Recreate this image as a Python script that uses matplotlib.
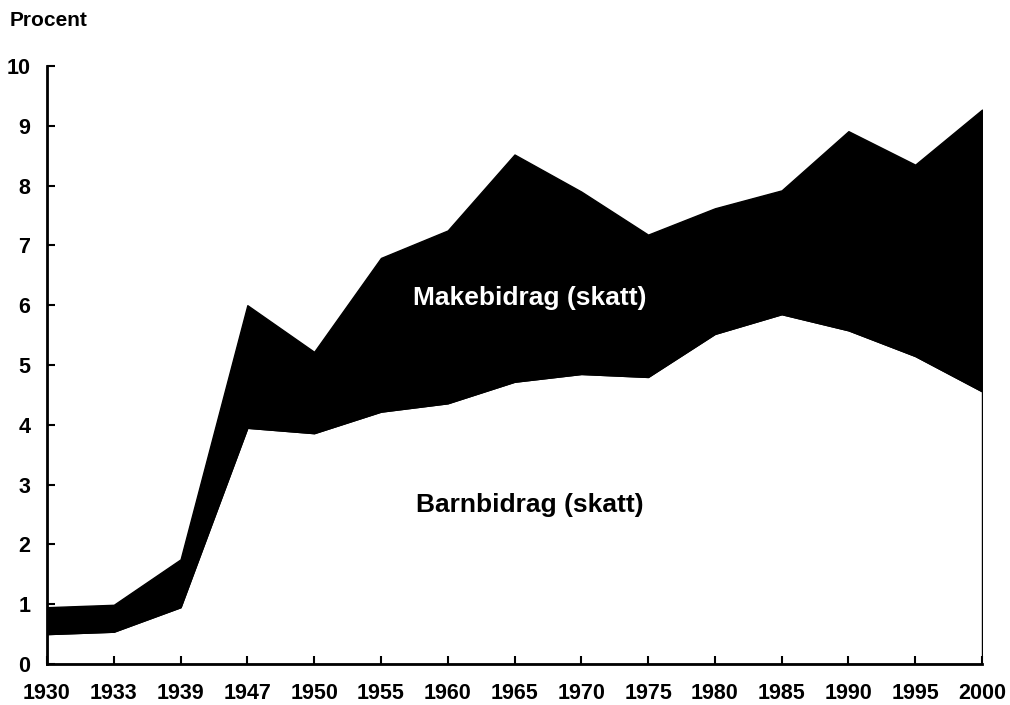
import matplotlib
matplotlib.use("Agg")
import matplotlib.pyplot as plt
import numpy as np

plt.rcParams['font.family'] = ['Liberation Sans', 'DejaVu Sans']
plt.rcParams['font.weight'] = 'bold'

# Data (percent)
years = ['1930', '1933', '1939', '1947', '1950', '1955', '1960', '1965',
         '1970', '1975', '1980', '1985', '1990', '1995', '2000']
barnbidrag = [0.50, 0.54, 0.95, 3.95, 3.86, 4.22, 4.36, 4.72,
              4.85, 4.80, 5.52, 5.85, 5.58, 5.15, 4.56]
makebidrag = [0.45, 0.45, 0.80, 2.05, 1.36, 2.57, 2.89, 3.80,
              3.05, 2.38, 2.10, 2.07, 3.33, 3.20, 4.71]

x = np.arange(len(years))

fig = plt.figure(figsize=(10.10, 7.05), dpi=100)
ax = fig.add_axes([47 / 1010, 41 / 705, 935 / 1010, 598 / 705])

ax.stackplot(x, barnbidrag, makebidrag, colors=['white', 'black'],
             edgecolor='black', linewidth=1.0)

ax.set_xlim(0, len(years) - 1)
ax.set_ylim(0, 10)
ax.set_xticks(x)
ax.set_xticklabels(years)
ax.set_yticks(range(0, 11))

for side in ['top', 'right']:
    ax.spines[side].set_visible(False)
for side in ['left', 'bottom']:
    ax.spines[side].set_linewidth(2.0)
    ax.spines[side].set_zorder(5)

ax.tick_params(axis='both', direction='in', length=6, width=1.5,
               labelsize=15.5)
ax.tick_params(axis='x', pad=14)
ax.tick_params(axis='y', pad=12)
for lbl in ax.get_xticklabels() + ax.get_yticklabels():
    lbl.set_fontweight('bold')

ax.text(7.23, 6.12, 'Makebidrag (skatt)', color='white', fontsize=19,
        fontweight='bold', ha='center', va='center')
ax.text(7.23, 2.66, 'Barnbidrag (skatt)', color='black', fontsize=19,
        fontweight='bold', ha='center', va='center')

fig.text(10 / 1010, 1 - 21 / 705, 'Procent', fontsize=15, fontweight='bold',
         ha='left', va='center')

fig.savefig('out.png', dpi=100)
